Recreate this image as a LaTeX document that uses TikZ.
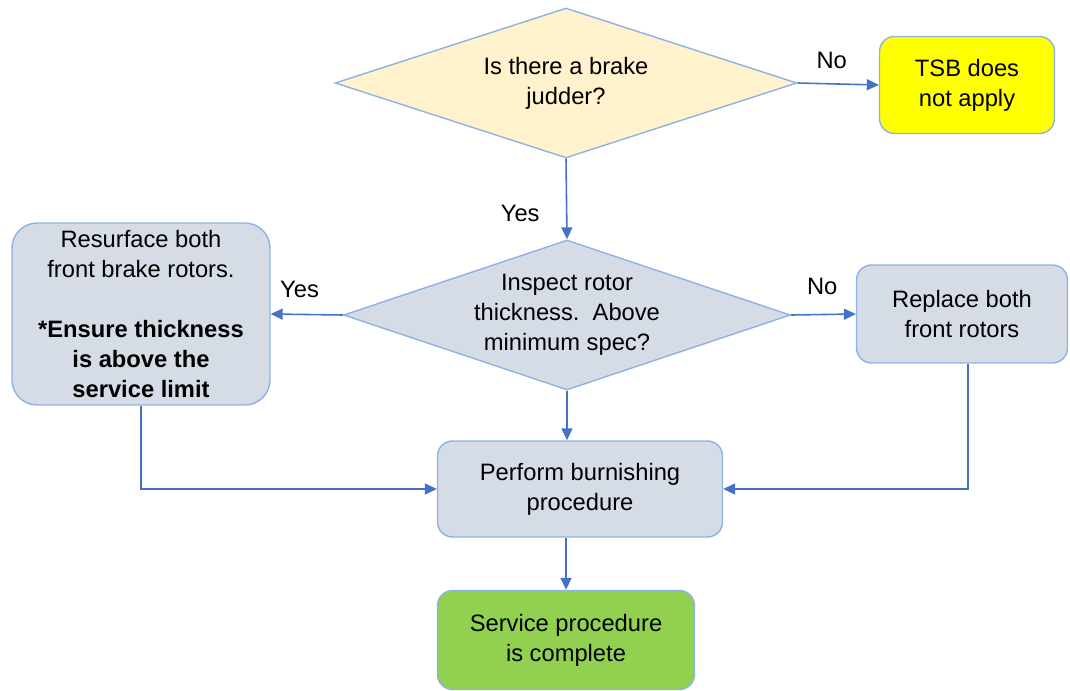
\documentclass[tikz,border=0pt]{standalone}
\usepackage{fontspec}
\setmainfont{Liberation Sans}
\usepackage{xcolor}
\usetikzlibrary{shapes.geometric,arrows.meta,positioning,calc}

\definecolor{linkblue}{HTML}{4472C4}
\definecolor{edgeblue}{HTML}{8DB3E2}
\definecolor{paleyel}{HTML}{FFF2CC}
\definecolor{greyblue}{HTML}{D6DCE5}
\definecolor{tsbyel}{HTML}{FFFF00}
\definecolor{donegreen}{HTML}{92D050}

\begin{document}
\begin{tikzpicture}[x=0.02cm,y=-0.02cm,>={Triangle[length=2.4mm,width=2.2mm]},
	font=\fontsize{13.5}{17}\selectfont]
	\tikzstyle{decision} = [draw=edgeblue,diamond,shape aspect=3.1,line width=0.8pt,inner sep=0pt,align=center,minimum width=9.24cm,minimum height=3cm]
	\tikzstyle{block} = [draw=edgeblue,rectangle,rounded corners=0.3cm,line width=0.8pt,fill=greyblue,align=center,inner sep=2pt]
	\tikzstyle{link} = [->,draw=linkblue,line width=0.9pt]
	\tikzstyle{lbl} = [font=\fontsize{13.5}{17}\selectfont,inner sep=1pt]

	\useasboundingbox (0,0) rectangle (1070,690);

	\node[decision,fill=paleyel] (Q1) at (566,83) {Is there a brake\\judder?};
	\node[block,fill=tsbyel,minimum width=3.5cm,minimum height=1.94cm] (TSB) at (967,85) {TSB does\\not apply};
	\node[decision,fill=greyblue,minimum width=8.94cm] (Q2) at (567,315) {Inspect rotor\\thickness.\ \ Above\\minimum spec?};
	\node[block,rounded corners=0.5cm,minimum width=5.16cm,minimum height=3.64cm] (RES) at (141,314)
		{Resurface both\\front brake rotors.\\[17pt]\textbf{*Ensure thickness}\\\textbf{is above the}\\\textbf{service limit}};
	\node[block,minimum width=4.22cm,minimum height=1.96cm] (REP) at (962,314) {Replace both\\front rotors};
	\node[block,minimum width=5.7cm,minimum height=1.92cm] (BURN) at (580,489) {Perform burnishing\\procedure};
	\node[block,fill=donegreen,minimum width=5.14cm,minimum height=1.98cm] (DONE) at (566,640) {Service procedure\\is complete};

	\draw[link] (Q1.east) -- node[lbl,pos=0.42,above=7pt] (no1) {No} (TSB.west);
	\draw[link] (Q1.south) -- node[lbl,pos=0.68,left=14pt] (yes1) {Yes} (Q2.north);
	\draw[link] (Q2.west) -- node[lbl,pos=0.6,above=8pt] (yes2) {Yes} (RES.east);
	\draw[link] (Q2.east) -- node[lbl,pos=0.48,above=10pt] (no2) {No} (REP.west);
	\draw[link] (Q2.south) -- (Q2.south |- BURN.north);
	\draw[link] (RES.south) |- (BURN.west);
	\draw[link] ([xshift=0.12cm]REP.south) |- (BURN.east);
	\draw[link] (BURN.south -| DONE.north) -- (DONE.north);
\end{tikzpicture}
\end{document}
